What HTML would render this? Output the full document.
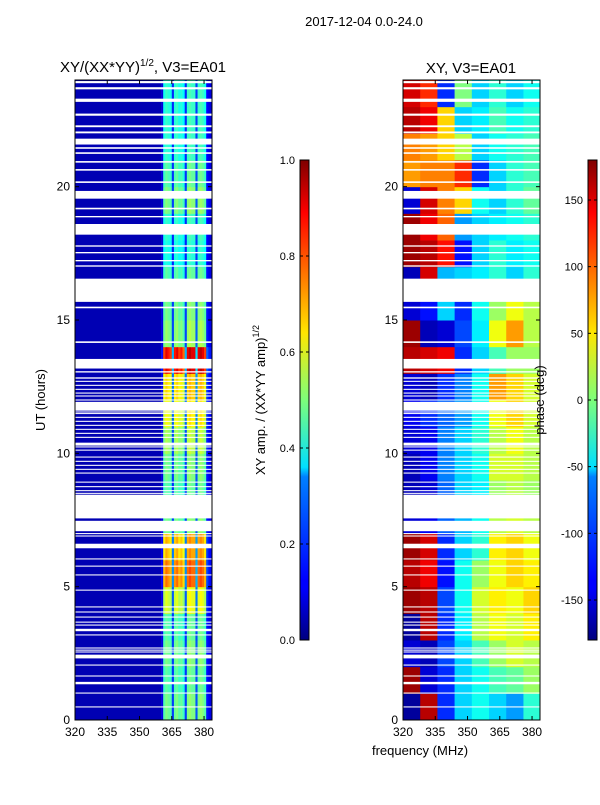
<!DOCTYPE html>
<html><head><meta charset="utf-8">
<style>
body{margin:0;background:#fff;}
svg text{font-family:"Liberation Sans","DejaVu Sans",sans-serif;fill:#000;}
</style></head>
<body>
<svg id="chart" width="600" height="800" xmlns="http://www.w3.org/2000/svg">
<defs>
<linearGradient id="jet" x1="0" y1="1" x2="0" y2="0">
<stop offset="0" stop-color="#00007f"/><stop offset="0.11" stop-color="#0000ff"/>
<stop offset="0.125" stop-color="#0000ff"/><stop offset="0.34" stop-color="#0080ff"/>
<stop offset="0.36" stop-color="#00e0ff"/><stop offset="0.5" stop-color="#7dff7a"/>
<stop offset="0.64" stop-color="#ffe600"/><stop offset="0.75" stop-color="#ff8000"/>
<stop offset="0.89" stop-color="#ff0000"/><stop offset="1" stop-color="#7f0000"/>
</linearGradient>
</defs>
<text x="364" y="26" font-size="13" text-anchor="middle">2017-12-04 0.0-24.0</text>
<text x="143" y="72" font-size="15" text-anchor="middle">XY/(XX*YY)<tspan font-size="10" dy="-6">1/2</tspan><tspan dy="6">, V3=EA01</tspan></text>
<text x="471" y="73" font-size="15" text-anchor="middle">XY, V3=EA01</text>
<text transform="translate(45,400) rotate(-90)" font-size="13" text-anchor="middle">UT (hours)</text>
<text x="420" y="755" font-size="13" text-anchor="middle">frequency (MHz)</text>
<text transform="translate(265,400) rotate(-90)" font-size="13" text-anchor="middle">XY amp. / (XX*YY amp)<tspan font-size="9" dy="-6">1/2</tspan></text>
<g id="left"></g>
<g id="right"></g>
<g id="cbars"></g>
<text transform="translate(544,400) rotate(-90)" font-size="13" text-anchor="middle">phase (deg)</text>
</svg>
<script>
// ---- data ----
const gaps = [[23.88,23.96],[23.65,23.73],[23.18,23.3],[22.66,22.74],[22.23,22.3],[22.0,22.07],[21.58,21.8],[21.42,21.48],[21.23,21.29],[20.9,20.96],[20.6,20.66],[20.14,20.2],[19.55,19.84],[19.15,19.21],[18.85,18.9],[18.2,18.6],[17.75,17.8],[17.5,17.55],[17.2,17.25],[17.0,17.05],[15.68,16.55],[15.44,15.5],[14.14,14.2],[13.18,13.54],[13.03,13.08],[12.8,12.85],[12.68,12.72],[12.53,12.57],[12.38,12.42],[12.24,12.28],[12.13,12.17],[11.98,12.02],[11.6,11.93],[11.53,11.57],[11.48,11.51],[11.33,11.37],[11.18,11.22],[11.03,11.07],[10.88,10.92],[10.73,10.77],[10.58,10.62],[10.29,10.4],[10.22,10.26],[10.1,10.14],[9.84,9.88],[9.68,9.72],[9.53,9.57],[9.38,9.42],[9.24,9.28],[8.9,8.94],[8.73,8.77],[8.58,8.62],[8.48,8.52],[7.56,8.45],[7.08,7.47],[6.97,7.01],[6.88,6.92],[6.44,6.61],[6.02,6.06],[5.75,5.79],[5.42,5.46],[4.85,4.89],[4.22,4.26],[4.03,4.07],[3.84,3.88],[3.65,3.69],[3.54,3.58],[3.33,3.42],[3.17,3.21],[2.68,2.72],[2.6,2.64],[2.53,2.57],[2.31,2.45],[2.04,2.08],[1.63,1.67],[1.34,1.43],[0.99,1.03],[0.47,0.51]];
// amplitude: per-hour row intensity (0-1h ... 23-24h)
const rowIntensity = [0.45,0.42,0.45,0.42,0.55,0.72,0.66,0.45,0.42,0.45,0.5,0.58,0.62,0.85,0.48,0.45,0.42,0.36,0.38,0.46,0.42,0.38,0.38,0.38];
// amplitude column weights for 1-MHz bins 360..384 (below 360 baseline)
const colFreqStart = 360;
const colWeight = [0.1,0.9,1.0,0.95,0.9,0.3,0.95,1.0,0.9,0.95,0.85,0.3,1.0,1.05,1.0,1.0,0.35,1.0,1.05,1.0,0.9,0.2,0.12,0.1];
const ampBaseline = 0.05;
// phase grid: rows = hours 0..23, cols = 8-MHz bins 320..384
const phaseGrid = [
[-170,160,-120,-60,-40,-60,-80,-30],
[170,-150,-120,-60,-40,-20,-10,10],
[-150,-160,-110,-60,-20,10,30,20],
[-170,160,-120,-50,20,40,30,50],
[170,160,-110,-40,30,50,40,60],
[160,140,-130,-40,10,40,60,50],
[170,150,-120,-60,-30,50,60,40],
[-150,-140,-100,-70,-40,20,30,20],
[-160,-150,-100,-60,-50,10,20,10],
[-160,-140,-90,-60,-40,30,30,20],
[-150,-140,-90,-60,-30,20,40,20],
[-140,-120,-100,-80,-40,40,60,30],
[-150,-160,-120,-90,-40,80,60,30],
[160,150,140,-120,-60,-20,10,10],
[170,-160,-150,-110,-50,40,80,20],
[-150,-130,-60,-120,-40,10,40,20],
[-160,150,-70,-60,-50,-30,-60,-30],
[170,160,130,-130,-60,-30,-50,-40],
[170,140,100,-80,-60,-50,-40,-30],
[-150,150,90,60,-40,-60,-30,-10],
[80,90,90,120,-120,-60,-30,-20],
[90,80,60,20,-60,-40,-30,-20],
[160,140,60,-60,-50,-20,-40,-30],
[150,120,-120,0,-60,-30,-60,-40]];
const phaseBinStart = 320, phaseBinWidth = 8;
const xTicks = [320,335,350,365,380];
const yTicks = [0,5,10,15,20];
const ampTicks = ["0.0","0.2","0.4","0.6","0.8","1.0"];
const phaseTicks = [-150,-100,-50,0,50,100,150];

// ---- scales ----
const NS="http://www.w3.org/2000/svg";
const Y0=720, Y1=80, X0L=75, X0R=403, W=137;
const fMin=320, fMax=383.7;
function yS(h){return Y0-(h/24)*(Y0-Y1);}
function xS(f,x0){return x0+(f-fMin)/(fMax-fMin)*W;}
function jet(v){v=Math.max(0,Math.min(1,v));
 function c(x){return Math.max(0,Math.min(1,1.5-Math.abs(4*v-x)));}
 return `rgb(${Math.round(c(3)*255)},${Math.round(c(2)*255)},${Math.round(c(1)*255)})`;}
function mk(tag,attrs,parent){const e=document.createElementNS(NS,tag);for(const k in attrs)e.setAttribute(k,attrs[k]);parent.appendChild(e);return e;}

const L=document.getElementById('left'), R=document.getElementById('right'), C=document.getElementById('cbars');
for(let h=0;h<rowIntensity.length;h++){
  const yt=yS(h+1), yb=yS(h);
  const r=mk('rect',{x:X0L,y:yt,width:xS(colFreqStart,X0L)-X0L,height:yb-yt+0.5,fill:jet(ampBaseline)},L);
  
  
  for(let j=0;j<colWeight.length;j++){
    const f=colFreqStart+j;
    const x=xS(f,X0L), x2=Math.min(xS(f+1,X0L),X0L+W);
    if(x2<=x) continue;
    const c=mk('rect',{x:x,y:yt,width:x2-x+0.3,height:yb-yt+0.5,fill:jet(ampBaseline+rowIntensity[h]*colWeight[j])},L);
    
    
  }
}
for(let h=0;h<phaseGrid.length;h++){
  const yt=yS(h+1), yb=yS(h);
  for(let j=0;j<phaseGrid[h].length;j++){
    const f=phaseBinStart+j*phaseBinWidth;
    const x=xS(f,X0R), x2=Math.min(xS(f+phaseBinWidth,X0R),X0R+W);
    const c=mk('rect',{x:x,y:yt,width:x2-x+0.3,height:yb-yt+0.5,fill:jet((phaseGrid[h][j]+180)/360)},R);
    
    
  }
}
[[L,X0L],[R,X0R]].forEach(([g,x0])=>{
  gaps.forEach(gp=>{
    const yt=yS(gp[1]), yb=yS(gp[0]);
    const r=mk('rect',{x:x0,y:yt,width:W,height:Math.max(1,yb-yt),fill:'#fff'},g);
    
    
  });
});
[[L,X0L,'left'],[R,X0R,'right']].forEach(([g,x0,nm])=>{
  const fr=mk('rect',{x:x0,y:Y1,width:W,height:Y0-Y1,fill:'none',stroke:'#000','stroke-width':1},g);
  
  
  xTicks.forEach(t=>{
    const x=xS(t,x0);
    mk('line',{x1:x,x2:x,y1:Y0,y2:Y0-4,stroke:'#000'},g);
    mk('line',{x1:x,x2:x,y1:Y1,y2:Y1+4,stroke:'#000'},g);
    const tx=mk('text',{x:x,y:Y0+16,'font-size':12,'text-anchor':'middle'},g);
    tx.textContent=t;
    
    
  });
  yTicks.forEach(t=>{
    const y=yS(t);
    mk('line',{x1:x0,x2:x0+4,y1:y,y2:y,stroke:'#000'},g);
    mk('line',{x1:x0+W,x2:x0+W-4,y1:y,y2:y,stroke:'#000'},g);
    const tx=mk('text',{x:x0-5,y:y+4,'font-size':12,'text-anchor':'end'},g);
    tx.textContent=t;
    
    
  });
});
function cbar(x,labels,vals,vmin,vmax,nm){
  const b=mk('rect',{x:x,y:160,width:9,height:480,fill:'url(#jet)',stroke:'#000','stroke-width':1},C);
  
  
  labels.forEach((lab,i)=>{
    const y=640-(vals[i]-vmin)/(vmax-vmin)*480;
    mk('line',{x1:x,x2:x+3,y1:y,y2:y,stroke:'#000'},C);
    mk('line',{x1:x+9,x2:x+6,y1:y,y2:y,stroke:'#000'},C);
    const t=mk('text',{x:x-5,y:y+4,'font-size':11,'text-anchor':'end'},C);
    t.textContent=lab;
    
    
  });
}
cbar(300,ampTicks,ampTicks.map(Number),0,1,'amp-colorbar');
cbar(588,phaseTicks.map(String),phaseTicks,-180,180,'phase-colorbar');
</script>
</body></html>
